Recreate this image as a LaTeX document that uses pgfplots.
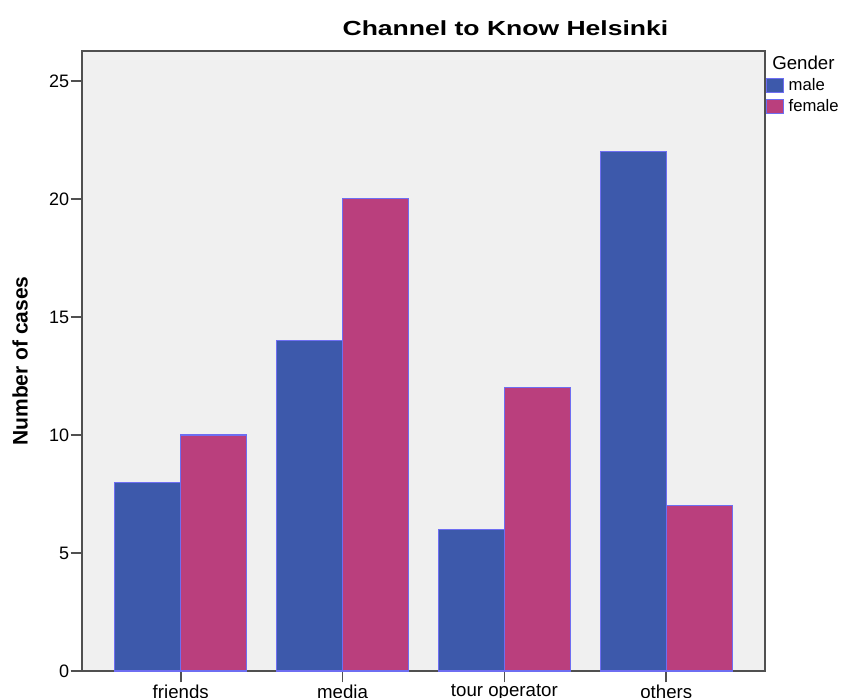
\documentclass[border=0pt]{standalone}
\usepackage{pgfplots}
\pgfplotsset{compat=1.18}
\usepackage{fontspec}
\setmainfont{Liberation Sans}
\newfontfamily\titlefont[FakeStretch=1.3]{Liberation Sans}
\definecolor{male}{HTML}{3D59AB}
\definecolor{female}{HTML}{BA3F7D}
\definecolor{edge}{HTML}{6E6EF2}
\definecolor{bg}{HTML}{F0F0F0}
\definecolor{axisline}{HTML}{505050}
\begin{document}
\begin{tikzpicture}
\useasboundingbox (0,0) rectangle (632.25pt,523.5pt);
\begin{axis}[
  at={(61.5pt,20.25pt)}, anchor=south west,
  scale only axis, width=512.25pt, height=465pt,
  ybar=0pt, bar width=49.5pt,
  xmin=-0.61, xmax=3.61, ymin=0, ymax=26.27,
  xtick={0,1,2,3},
  xticklabels={friends,media,tour operator,others},
  ytick={0,5,10,15,20,25},
  tick pos=left, tick align=outside,
  major tick length=8.5pt,
  every tick/.style={axisline, line width=1.2pt},
  axis line style={axisline, line width=1.5pt},
  axis background/.style={fill=bg},
  /pgf/number format/assume math mode=true,
  tick label style={text=black},
  yticklabel style={inner sep=0pt, xshift=-1pt, font=\fontsize{13.5}{15}\selectfont},
  xticklabel style={inner sep=0pt, yshift=-1.5pt, font=\fontsize{14}{16}\selectfont},
  ylabel={Number of cases},
  ylabel style={at={(axis description cs:0,0.5)}, anchor=center, yshift=46.5pt, font=\fontsize{15.75}{18}\selectfont\bfseries},
  title={Channel to Know Helsinki},
  title style={at={(axis description cs:0.62,1)}, anchor=base, yshift=5.25pt, inner sep=0pt, font=\titlefont\fontsize{15.3}{18}\selectfont\bfseries},
  legend style={at={(axis description cs:1,1)}, anchor=north west, xshift=0.5pt, yshift=-19pt,
    draw=none, fill=none, inner sep=0pt, row sep=1.8pt,
    font=\fontsize{12.5}{14}\selectfont,
    nodes={inner sep=1.5pt},
    /tikz/every odd column/.append style={column sep=2pt}},
  legend cell align=left,
  legend image code/.code={\draw[#1] (0pt,-5.25pt) rectangle (12.75pt,5.25pt);},
  clip=false,
]
\addplot[fill=male, draw=edge, line width=0.8pt] coordinates {(0,8) (1,14) (2,6) (3,22)};
\addplot[fill=female, draw=edge, line width=0.8pt] coordinates {(0,10) (1,20) (2,12) (3,7)};
\legend{male,female}
\node[anchor=base west, inner sep=0pt, font=\fontsize{14}{16}\selectfont] at ([xshift=5.25pt,yshift=-14.25pt]rel axis cs:1,1) {Gender};
\end{axis}
\end{tikzpicture}
\end{document}
